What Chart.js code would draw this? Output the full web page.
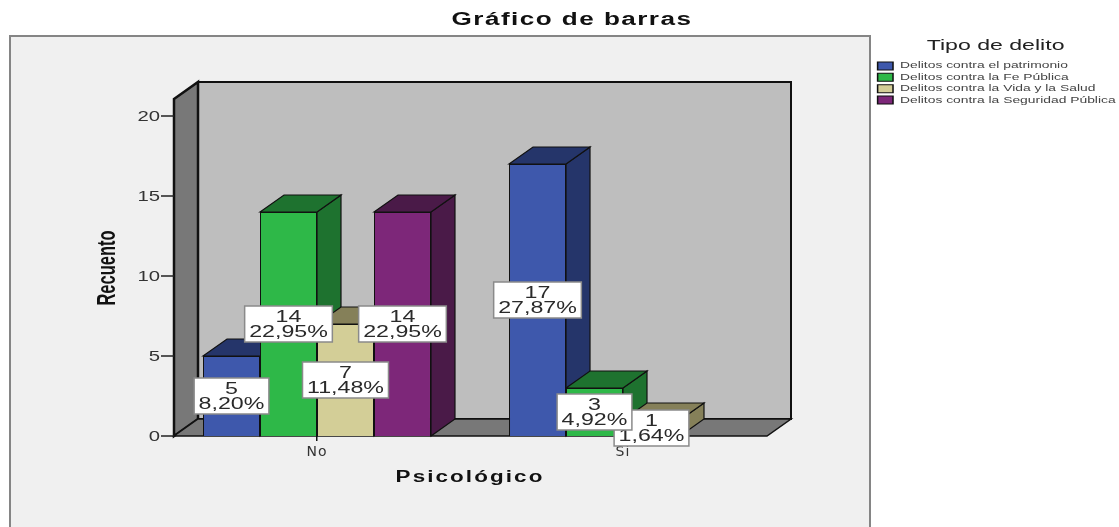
<!DOCTYPE html>
<html><head><meta charset="utf-8">
<style>html,body{margin:0;padding:0;background:#fff;overflow:hidden}canvas{display:block}</style>
<script src="https://cdn.jsdelivr.net/npm/chart.js@4"></script>
</head><body><canvas id="c" width="1119" height="527"></canvas>
<script>
const categories = ['No', 'Sí'];
const patrimonio = [5, 17];
const fePublica = [14, 3];
const vidaSalud = [7, 1];
const seguridad = [14, 0];
const seriesNames = ['Delitos contra el patrimonio','Delitos contra la Fe Pública','Delitos contra la Vida y la Salud','Delitos contra la Seguridad Pública'];
const totalCount = 61;

const frontColors = ['#3e58ac','#2eb848','#d3ce97','#7d2779'];
const sideColors  = ['#25356a','#1e722f','#858059','#4a1a48'];
const D = {dx:24, dy:-17, insetL:10, insetR:9};
const face = 'Liberation Sans';

// draw a text-bearing part of the chart stretched horizontally about a pivot, as in the source image
function stretched(ctx, obj, method, pivot, k, px, dy){
  const orig = obj[method];
  obj[method] = function(){
    ctx.save();
    ctx.letterSpacing = px || '0px';
    if(dy) ctx.translate(0,dy);
    if(k !== 1){ ctx.translate(pivot,0); ctx.scale(k,1); ctx.translate(-pivot,0); }
    const r = orig.apply(this, arguments);
    ctx.restore();
    return r;
  };
}
function poly(ctx, pts, fill, stroke, lw){
  ctx.beginPath(); pts.forEach((p,i)=> i?ctx.lineTo(p[0],p[1]):ctx.moveTo(p[0],p[1])); ctx.closePath();
  ctx.fillStyle = fill; ctx.fill();
  ctx.strokeStyle = stroke; ctx.lineWidth = lw; ctx.stroke();
}

const scene = {
  id:'scene',
  afterLayout(chart){
    const t = chart.titleBlock; t.top = 9; t.bottom = 30; t.left = 472; t.right = 672;
    const l = chart.legend; l.left = 875; l.right = 1033; l.width = 158; l.top = 38; l.bottom = 300; l.height = 262;
    if(!chart.$wrapped){
      chart.$wrapped = true;
      const ctx = chart.ctx, a = chart.chartArea;
      stretched(ctx, t, 'draw', 572, 1.45, '1px');
      stretched(ctx, l, 'draw', 877, 1.54, '0px');
      stretched(ctx, chart.scales.x, 'drawTitle', 470, 1.4, '1.5px');
      stretched(ctx, chart.scales.x, 'drawLabels', 0, 1, '1px');
      stretched(ctx, chart.scales.y, 'drawLabels', a.left-4, 1.45, '0px', 1);
      stretched(ctx, chart.scales.y, 'drawTitle', 108, 1.6, '0px');
    }
  },
  beforeDraw(chart){
    const ctx = chart.ctx, a = chart.chartArea, ys = chart.scales.y;
    ctx.save();
    ctx.fillStyle = '#f0f0f0'; ctx.strokeStyle = '#858585'; ctx.lineWidth = 2;
    ctx.fillRect(10, 36, 860, 500); ctx.strokeRect(10, 36, 860, 500);
    const L = a.left + D.insetL, R = a.right - D.insetR, T = a.top - 1, B = a.bottom;
    poly(ctx, [[L+D.dx,T+D.dy],[R+D.dx,T+D.dy],[R+D.dx,B+D.dy],[L+D.dx,B+D.dy]], '#bebebe', '#111', 2);
    poly(ctx, [[L,T],[L+D.dx,T+D.dy],[L+D.dx,B+D.dy],[L,B]], '#787878', '#111', 2.5);
    poly(ctx, [[L,B],[L+D.dx,B+D.dy],[R+D.dx,B+D.dy],[R,B]], '#787878', '#111', 1.5);
    ctx.strokeStyle = '#222'; ctx.lineWidth = 1.5;
    ys.ticks.forEach(t => { const y = ys.getPixelForValue(t.value);
      ctx.beginPath(); ctx.moveTo(a.left-3, y); ctx.lineTo(L, y); ctx.stroke(); });
    ctx.restore();
  },
  beforeDatasetsDraw(chart){
    const ctx = chart.ctx;
    ctx.save();
    const items = [];
    chart.data.datasets.forEach((ds,i)=>{ chart.getDatasetMeta(i).data.forEach((el,j)=>{ if(ds.data[j]>0) items.push({el,i}); }); });
    items.sort((p,q)=>p.el.x-q.el.x);
    items.forEach(({el,i})=>{
      const l = el.x-el.width/2, r = el.x+el.width/2, t = el.y, b = el.base;
      poly(ctx, [[r,t],[r+D.dx,t+D.dy],[r+D.dx,b+D.dy],[r,b]], sideColors[i], '#111', 1.2);
      poly(ctx, [[l,t],[l+D.dx,t+D.dy],[r+D.dx,t+D.dy],[r,t]], sideColors[i], '#111', 1.2);
    });
    ctx.restore();
  },
  afterDatasetsDraw(chart){
    const ctx = chart.ctx, k = 1.45;
    ctx.save();
    ctx.font = '16px "'+face+'"';
    ctx.textAlign = 'center'; ctx.textBaseline = 'middle';
    for(let i = chart.data.datasets.length-1; i>=0; i--){
      const ds = chart.data.datasets[i];
      chart.getDatasetMeta(i).data.forEach((el,j)=>{
        const v = ds.data[j]; if(!(v>0)) return;
        const pct = (v/totalCount*100).toFixed(2).replace('.',',')+'%';
        const cx = el.x, cy = (el.y+el.base)/2;
        const w = ctx.measureText(pct).width*k + 9, h = 36;
        const bx = cx-w/2, by = cy-h/2;
        ctx.fillStyle = '#fff'; ctx.fillRect(bx,by,w,h);
        ctx.strokeStyle = '#8a8a8a'; ctx.lineWidth = 1.5; ctx.strokeRect(bx,by,w,h);
        ctx.fillStyle = '#2a2a2a';
        ctx.save();
        ctx.translate(cx,0); ctx.scale(k,1);
        ctx.fillText(String(v), 0, cy-6.5);
        ctx.fillText(pct, 0, cy+8.5);
        ctx.restore();
      });
    }
    ctx.restore();
  }
};

const seriesData = [patrimonio, fePublica, vidaSalud, seguridad];
new Chart(document.getElementById('c'), {
  type:'bar',
  data:{ labels:categories, datasets: seriesData.map((d,i)=>({
    label:seriesNames[i], data:d, backgroundColor:frontColors[i], borderColor:'#111', borderWidth:1,
    categoryPercentage:0.745, barPercentage:1
  }))},
  plugins:[scene],
  options:{
    responsive:false, animation:false,
    layout:{padding:{left:0,right:343,top:78.4,bottom:0}},
    plugins:{
      tooltip:{enabled:false},
      title:{display:true,text:'Gráfico de barras',color:'#111',padding:0,
        font:{family:face,size:18,weight:'bold'}},
      legend:{display:true,position:'chartArea',align:'start',
        title:{display:true,text:'Tipo de delito',color:'#222',position:'center',padding:{top:0,bottom:3},
          font:{family:face,size:15}},
        labels:{boxWidth:10,boxHeight:8,padding:2.4,color:'#444',font:{family:face,size:9}}}
    },
    scales:{
      x:{
        afterFit(s){ s.height = 91; },
        grid:{drawOnChartArea:false,drawTicks:true,tickLength:5,color:'#111',lineWidth:1.5,offset:false},
        border:{display:false},
        ticks:{color:'#333',padding:3,maxRotation:0,font:{family:'DejaVu Sans',size:14}},
        title:{display:true,text:'Psicológico',color:'#111',padding:40,font:{family:face,size:16,weight:'bold'}}
      },
      y:{
        min:0,max:21,
        afterFit(s){ s.width = 164; },
        afterBuildTicks(s){ s.ticks = s.ticks.filter(t=>t.value%5===0); },
        grid:{display:false,drawTicks:false},
        border:{display:false},
        ticks:{stepSize:5,color:'#333',padding:4,font:{family:face,size:14}},
        title:{display:true,text:'Recuento',color:'#111',padding:98,font:{family:face,size:16.5,weight:'bold'}}
      }
    }
  }
});
</script></body></html>
